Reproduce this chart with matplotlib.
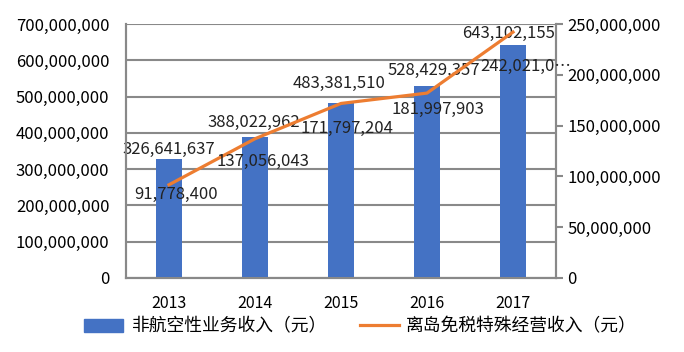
import matplotlib
matplotlib.use("Agg")
import matplotlib.pyplot as plt
from matplotlib.ticker import FuncFormatter, MultipleLocator
from matplotlib.patches import Patch
from matplotlib.lines import Line2D

plt.rcParams['font.family'] = ['Noto Sans CJK SC', 'DejaVu Sans']

years = ["2013", "2014", "2015", "2016", "2017"]
non_aero_revenue = [326641637, 388022962, 483381510, 528429357, 643102155]
duty_free_revenue = [91778400, 137056043, 171797204, 181997903, 242021000]
duty_free_label_text = ["91,778,400", "137,056,043", "171,797,204", "181,997,903", "242,021,0…"]
series_names = ["非航空性业务收入（元）", "离岛免税特殊经营收入（元）"]

# label offsets in pixels (styling)
bar_label_offsets = [(0, 10), (-1, 15), (-2, 19), (7, 16), (-4, 11)]
line_label_offsets = [(7, -10), (8, -23), (6, -25), (11, -16), (-33, -34)]
line_label_ha = ["center", "center", "center", "center", "left"]

BLUE = "#4472C4"
ORANGE = "#ED7D31"
GRAY = "#898989"
FS = 12

fig = plt.figure(figsize=(6.84, 3.52), dpi=100)
ax = fig.add_axes([126 / 684, 1 - 278 / 352, 430 / 684, 254 / 352])
ax2 = ax.twinx()

x = list(range(len(years)))
ax.bar(x, non_aero_revenue, width=0.31, color=BLUE, zorder=3)
ax.set_xlim(-0.5, len(years) - 0.5)
ax.set_ylim(0, 700000000)
ax.yaxis.set_major_locator(MultipleLocator(100000000))
ax.yaxis.set_major_formatter(FuncFormatter(lambda v, p: f"{int(v):,}"))
ax.grid(axis="y", color=GRAY, linewidth=1.5, zorder=0)
ax.set_axisbelow(True)
ax.set_xticks(x)
ax.set_xticklabels(years)
ax.tick_params(axis="x", length=0, pad=12, labelsize=FS - 0.5)
ax.tick_params(axis="y", length=0, pad=12, labelsize=FS)

ax2.plot(x, duty_free_revenue, color=ORANGE, linewidth=2.3, zorder=4)
ax2.set_ylim(0, 250000000)
ax2.yaxis.set_major_locator(MultipleLocator(50000000))
ax2.yaxis.set_major_formatter(FuncFormatter(lambda v, p: f"{int(v):,}"))
ax2.tick_params(axis="y", length=5, width=1.5, color=GRAY, pad=3, labelsize=FS)

for a in (ax, ax2):
    for s in a.spines.values():
        s.set_color(GRAY)
        s.set_linewidth(1.5)
    a.spines["top"].set_visible(False)

for i, v in enumerate(non_aero_revenue):
    dx, dy = bar_label_offsets[i]
    ax.annotate(f"{v:,}", (x[i], v), xytext=(dx, dy), textcoords="offset pixels",
                ha="center", va="center", fontsize=FS, color="#222222", zorder=6)

for i, v in enumerate(duty_free_revenue):
    dx, dy = line_label_offsets[i]
    ax2.annotate(duty_free_label_text[i], (x[i], v), xytext=(dx, dy), textcoords="offset pixels",
                 ha=line_label_ha[i], va="center", fontsize=FS, color="#222222", zorder=6)

handles = [Patch(facecolor=BLUE, edgecolor=BLUE),
           Line2D([0], [0], color=ORANGE, linewidth=2.3)]
fig.legend(handles, series_names, loc="center", bbox_to_anchor=(0.527, 0.072), ncol=2,
           frameon=False, fontsize=12.8, handlelength=2.2, handleheight=0.75,
           columnspacing=1.9, handletextpad=0.4)

fig.savefig("out.png", dpi=100)
